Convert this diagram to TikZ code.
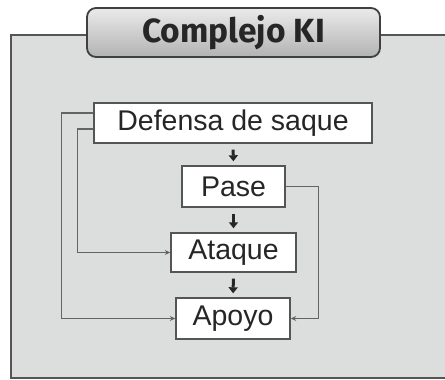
\documentclass[tikz,border=0pt]{standalone}
\usepackage{fontspec}
\setmainfont{Liberation Sans}
\newfontfamily\titlefont{Fira Sans}
\usetikzlibrary{arrows.meta}
\definecolor{bgray}{HTML}{DCDEDD}
\definecolor{lgray}{HTML}{555555}
\definecolor{cgray}{HTML}{646464}
\tikzset{
  box/.style={draw=lgray, line width=1.4pt, fill=white, inner sep=0pt, font=\fontsize{28.5}{31}\selectfont, text=black!85},
  conn/.style={draw=cgray, line width=1.2pt, -{Stealth[length=5.5pt,width=5pt]}},
  flow/.style={draw=black!85, line width=3pt, -{Triangle[length=6pt,width=9pt]}, shorten <=6pt, shorten >=4pt},
  frame/.style={draw=lgray, line width=2pt},
  titlebox/.style={draw=black!75, line width=1.8pt, rounded corners=9pt, top color=white!92!black, bottom color=black!30, inner sep=0pt, font=\titlefont\bfseries\fontsize{33.5}{35}\selectfont, text=black!85}
}
\begin{document}
\begin{tikzpicture}[x=1pt,y=-1pt]
\useasboundingbox (0,0) rectangle (445,380);
\fill[white] (0,0) rectangle (445,380);
\fill[bgray] (11,35) rectangle (445,378);
\draw[frame] (445,35) -- (11,35) -- (11,378) -- (445,378);
\node[titlebox, minimum width=293pt, minimum height=49pt] (t) at (233.5,32.5) {Complejo KI};
\node[box, minimum width=278pt, minimum height=40pt] (d) at (233,123) {Defensa de saque};
\node[box, minimum width=103pt, minimum height=41pt] (p) at (233.5,186.5) {Pase};
\node[box, minimum width=125pt, minimum height=39pt] (a) at (233.5,252.5) {Ataque};
\node[box, minimum width=114pt, minimum height=41pt] (o) at (233,318.5) {Apoyo};
\draw[flow] (d.south) -- (p.north);
\draw[flow] (p.south) -- (a.north);
\draw[flow] (a.south) -- (o.north);
\draw[conn] ([yshift=10pt]d.west) -- ++(-32,0) |- (o.west);
\draw[conn] ([yshift=-6pt]d.west) -- ++(-16,0) |- (a.west);
\draw[conn] (p.east) -- ++(33,0) |- (o.east);
\end{tikzpicture}
\end{document}
